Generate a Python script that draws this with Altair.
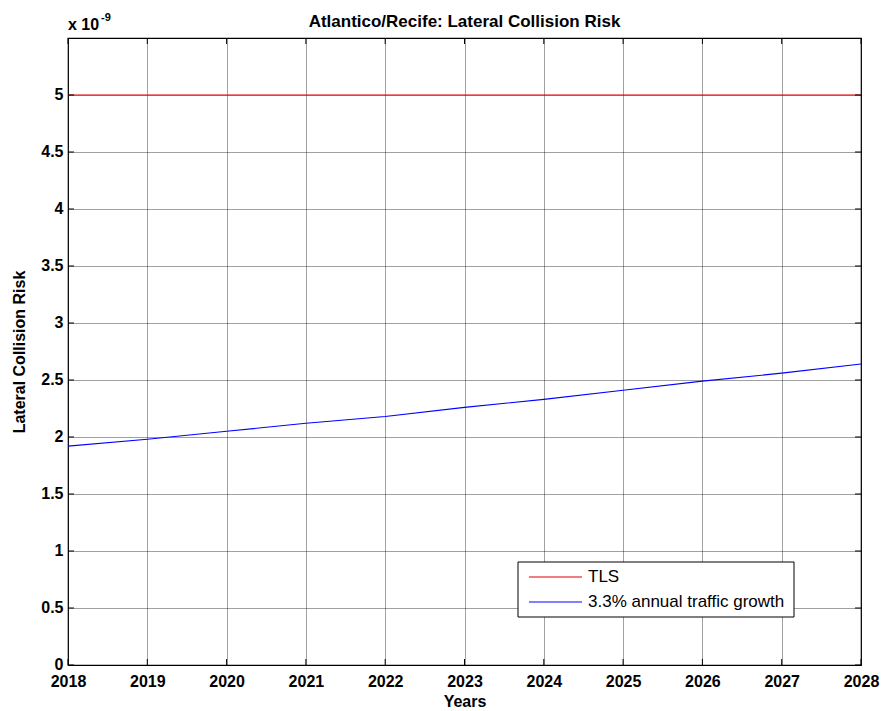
import altair as alt
import pandas as pd

# Data
years = [2018, 2019, 2020, 2021, 2022, 2023, 2024, 2025, 2026, 2027, 2028]
growth_risk = [1.92, 1.98, 2.05, 2.12, 2.18, 2.26, 2.33, 2.41, 2.49, 2.56, 2.64]  # x 10^-9
tls_value = 5.0
y_ticks = [0, 0.5, 1, 1.5, 2, 2.5, 3, 3.5, 4, 4.5, 5]
series_names = ["TLS", "3.3% annual traffic growth"]
series_colors = ["#e00000", "#0000ff"]

W, H = 793, 627
FONT = "Liberation Sans"

df = pd.DataFrame({
    "year": years * 2,
    "risk": [tls_value] * len(years) + growth_risk,
    "series": [series_names[0]] * len(years) + [series_names[1]] * len(years),
})
xt = pd.DataFrame({"year": years})
yt = pd.DataFrame({"risk": y_ticks})
one = pd.DataFrame({"k": [0]})

x_scale = alt.Scale(domain=[2018, 2028], nice=False, zero=False)
y_scale = alt.Scale(domain=[0, 5.5], nice=False)

x_axis = alt.Axis(values=years, format="d", title="Years", grid=True, ticks=False,
                  domain=False, labelPadding=8, titlePadding=4, labelFlush=False)
y_axis = alt.Axis(values=y_ticks, format="~g", title="Lateral Collision Risk", grid=True,
                  ticks=False, domain=False, labelPadding=5, titlePadding=13,
                  labelFlush=False, labelOffset=-1)

lines = alt.Chart(df).mark_line(strokeWidth=1.1, clip=True).encode(
    x=alt.X("year:Q", scale=x_scale, axis=x_axis),
    y=alt.Y("risk:Q", scale=y_scale, axis=y_axis),
    color=alt.Color("series:N", scale=alt.Scale(domain=series_names, range=series_colors),
                    legend=None),
)

# Inward tick marks on all four sides of the box
tick_len = 6
bottom_ticks = alt.Chart(xt).mark_rule(color="black").encode(
    x=alt.X("year:Q", scale=x_scale), y=alt.value(H), y2=alt.value(H - tick_len))
top_ticks = alt.Chart(xt).mark_rule(color="black").encode(
    x=alt.X("year:Q", scale=x_scale), y=alt.value(0), y2=alt.value(tick_len))
left_ticks = alt.Chart(yt).mark_rule(color="black").encode(
    y=alt.Y("risk:Q", scale=y_scale), x=alt.value(0), x2=alt.value(tick_len))
right_ticks = alt.Chart(yt).mark_rule(color="black").encode(
    y=alt.Y("risk:Q", scale=y_scale), x=alt.value(W), x2=alt.value(W - tick_len))

# Title and exponent annotation
title = alt.Chart(one).mark_text(align="center", baseline="alphabetic", font=FONT,
                                 fontSize=17, fontWeight="bold", color="black").encode(
    x=alt.value(W / 2), y=alt.value(-11),
    text=alt.value("Atlantico/Recife: Lateral Collision Risk"))
exp_base = alt.Chart(one).mark_text(align="left", baseline="alphabetic", font=FONT,
                                    fontSize=16, fontWeight="bold", color="black").encode(
    x=alt.value(0), y=alt.value(-8), text=alt.value("x 10"))
exp_pow = alt.Chart(one).mark_text(align="left", baseline="alphabetic", font=FONT,
                                   fontSize=11, fontWeight="bold", color="black").encode(
    x=alt.value(33), y=alt.value(-17), text=alt.value("-9"))

# Legend box
lx0, ly0, lw, lh = 450, 524, 276, 55
leg_layers = [alt.Chart(one).mark_rect(fill="white", stroke="black", strokeWidth=1).encode(
    x=alt.value(lx0), x2=alt.value(lx0 + lw), y=alt.value(ly0), y2=alt.value(ly0 + lh))]
for i, (name, col) in enumerate(zip(series_names, series_colors)):
    ry = ly0 + 15 + 25 * i
    leg_layers.append(alt.Chart(one).mark_rule(strokeWidth=1.1, color=col).encode(
        x=alt.value(lx0 + 11), x2=alt.value(lx0 + 64), y=alt.value(ry)))
    leg_layers.append(alt.Chart(one).mark_text(align="left", baseline="middle", font=FONT,
                                               fontSize=17, color="black").encode(
        x=alt.value(lx0 + 70), y=alt.value(ry), text=alt.value(name)))

chart = alt.layer(
    lines, bottom_ticks, top_ticks, left_ticks, right_ticks,
    title, exp_base, exp_pow, *leg_layers,
).properties(
    width=W, height=H,
    autosize=alt.AutoSizeParams(type="none"),
    padding={"left": 68, "top": 38, "right": 21, "bottom": 46},
    background="white",
).configure_view(
    stroke="black", strokeWidth=1.2, fill="white"
).configure_axis(
    labelFont=FONT, labelFontSize=16, labelFontWeight="bold", labelColor="black",
    titleFont=FONT, titleFontSize=16, titleFontWeight="bold", titleColor="black",
    gridColor="black", gridDash=[1, 1], gridOpacity=0.75, gridWidth=1,
)

chart.save("out.html", embed_options={"renderer": "svg", "actions": False})
